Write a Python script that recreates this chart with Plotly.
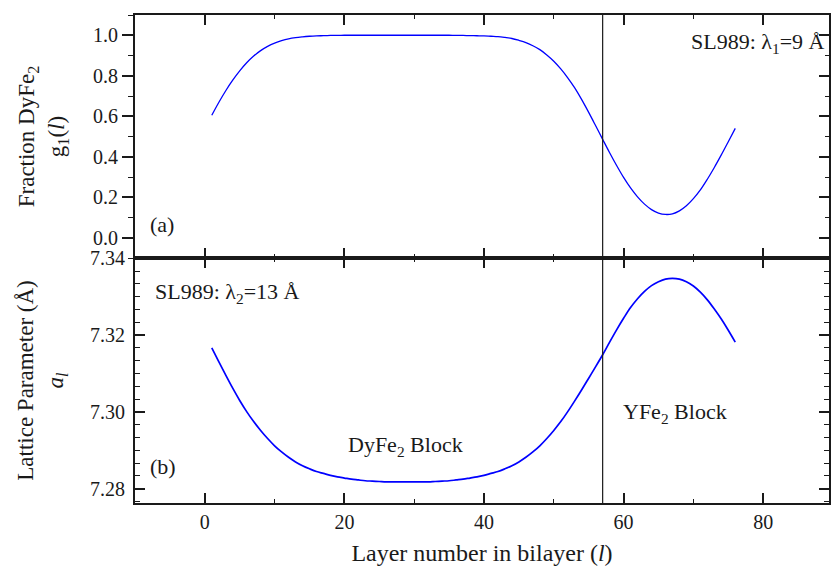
import plotly.graph_objects as go

# ---------------- data ----------------
layer_top = list(range(1, 77))
g1_values = [0.605, 0.668, 0.726, 0.778, 0.824, 0.864, 0.897, 0.924, 0.945, 0.961,   # 1-10
             0.973, 0.982, 0.988, 0.992, 0.995, 0.997, 0.998, 0.999, 0.9995, 1.0,    # 11-20
             1.0, 1.0, 1.0, 1.0, 1.0, 1.0, 1.0, 1.0, 1.0, 1.0,                       # 21-30
             1.0, 1.0, 1.0, 1.0, 1.0, 0.9995, 0.999, 0.998, 0.9975, 0.997,           # 31-40
             0.995, 0.993, 0.989, 0.984, 0.975, 0.964, 0.948, 0.929, 0.903, 0.872,   # 41-50
             0.834, 0.790, 0.740, 0.682, 0.619, 0.553, 0.486, 0.420, 0.357, 0.298,   # 51-60
             0.246, 0.202, 0.166, 0.139, 0.122, 0.115, 0.118, 0.133, 0.158, 0.193,   # 61-70
             0.236, 0.289, 0.347, 0.409, 0.474, 0.540]                               # 71-76

layer_bot = list(range(1, 77))
lattice_values = [7.3167, 7.3131, 7.3096, 7.3062, 7.3030, 7.3001, 7.2975, 7.2952, 7.2931, 7.2912,  # 1-10
                  7.2896, 7.2882, 7.2870, 7.2860, 7.2852, 7.2845, 7.2840, 7.2835, 7.2831, 7.2828,  # 11-20
                  7.2825, 7.2823, 7.2821, 7.2820, 7.2819, 7.2818, 7.2818, 7.2818, 7.2818, 7.2818,  # 21-30
                  7.2818, 7.2818, 7.2819, 7.2820, 7.2821, 7.2823, 7.2825, 7.2828, 7.2831, 7.2835,  # 31-40
                  7.2840, 7.2845, 7.2852, 7.2860, 7.2870, 7.2882, 7.2896, 7.2912, 7.2931, 7.2952,  # 41-50
                  7.2975, 7.3001, 7.3029, 7.3058, 7.3088, 7.3118, 7.3149, 7.3182, 7.3214, 7.3244,  # 51-60
                  7.3272, 7.3295, 7.3314, 7.3329, 7.3339, 7.3346, 7.3348, 7.3346, 7.3339, 7.3328,  # 61-70
                  7.3312, 7.3292, 7.3268, 7.3242, 7.3213, 7.3182]                                  # 71-76

boundary_layer = 57

x_range = [-10, 89.43]
g_range = [-0.1, 1.1]
a_range = [7.2763, 7.3401]

FONT = "Liberation Serif"
BLUE = "#0000ff"
INK = "#1a1a1a"

fig = go.Figure()
fig.add_trace(go.Scatter(x=layer_top, y=g1_values, mode="lines", xaxis="x2", yaxis="y2",
                         line=dict(color=BLUE, width=1.3, shape="spline", smoothing=1.0),
                         showlegend=False, hoverinfo="skip"))
fig.add_trace(go.Scatter(x=layer_bot, y=lattice_values, mode="lines", xaxis="x", yaxis="y",
                         line=dict(color=BLUE, width=1.7, shape="spline", smoothing=1.0),
                         showlegend=False, hoverinfo="skip"))

fig.add_shape(type="line", xref="x", yref="paper", x0=boundary_layer, x1=boundary_layer,
              y0=0, y1=1, line=dict(color=INK, width=1.2))

tickfont = dict(family=FONT, size=20, color=INK)
titlefont = dict(family=FONT, size=23, color=INK)
split = 245 / 488

common_x = dict(range=x_range, showline=True, linecolor=INK, linewidth=1.5,
                ticks="inside", ticklen=10, tickwidth=1.6, tickcolor=INK,
                dtick=20, tick0=0, mirror="ticks", showgrid=False, zeroline=False,
                minor=dict(ticks="inside", ticklen=4, tickwidth=1.4, dtick=10, tickcolor=INK))

fig.update_layout(
    width=831, height=568,
    margin=dict(l=135, r=0, t=15, b=65),
    plot_bgcolor="white", paper_bgcolor="white",
    font=dict(family=FONT, size=20, color=INK),
    xaxis=dict(**common_x, anchor="y", tickfont=tickfont,
               title=dict(text="Layer number in bilayer (<i>l</i>)",
                          font=dict(family=FONT, size=24, color=INK), standoff=12)),
    xaxis2=dict(**common_x, anchor="y2", matches="x", showticklabels=False),
    yaxis=dict(domain=[0, split], range=a_range, anchor="x",
               showline=True, linecolor=INK, linewidth=1.8,
               ticks="inside", ticklen=10, tickwidth=1.6, tickcolor=INK,
               tickvals=[7.28, 7.30, 7.32, 7.34], ticktext=["7.28", "7.30", "7.32", "7.34"],
               mirror="ticks", showgrid=False, zeroline=False, tickfont=tickfont,
               ticklabelstandoff=4,
               minor=dict(ticks="inside", ticklen=5, tickwidth=1.4, dtick=0.02 / 6,
                          tick0=7.28, tickcolor=INK),
               title=dict(text="Lattice Parameter (Å)<br><i>a</i><sub><i>l</i></sub>",
                          font=titlefont, standoff=20)),
    yaxis2=dict(domain=[split, 1], range=g_range, anchor="x2",
                showline=True, linecolor=INK, linewidth=1.8,
                ticks="outside", ticklen=11, tickwidth=1.6, tickcolor=INK,
                dtick=0.2, tick0=0, tickformat=".1f",
                showgrid=False, zeroline=False, tickfont=tickfont,
                minor=dict(ticks="outside", ticklen=5, tickwidth=1.4, dtick=0.1, tickcolor=INK),
                title=dict(text="Fraction DyFe<sub>2</sub><br>g<sub>1</sub>(<i>l</i>)",
                           font=titlefont, standoff=22)),
    yaxis3=dict(overlaying="y2", side="right", anchor="x2", range=g_range,
                showline=True, linecolor=INK, linewidth=1.8,
                ticks="inside", ticklen=10, tickwidth=1.6, tickcolor=INK,
                dtick=0.2, tick0=0, showticklabels=False, showgrid=False, zeroline=False,
                minor=dict(ticks="inside", ticklen=4, tickwidth=1.4, dtick=0.1, tickcolor=INK)),
)

fig.add_trace(go.Scatter(x=[None], y=[None], xaxis="x2", yaxis="y3", showlegend=False,
                         hoverinfo="skip"))

ann_font = dict(family=FONT, size=22, color=INK)
fig.add_annotation(text="SL989: λ<sub>1</sub>=9 Å", xref="paper", yref="y2", x=0.997, y=0.96,
                   xanchor="right", yanchor="middle", showarrow=False, font=ann_font)
fig.add_annotation(text="(a)", xref="x2", yref="y2", x=-8.1, y=0.064,
                   xanchor="left", yanchor="middle", showarrow=False, font=ann_font)
fig.add_annotation(text="SL989: λ<sub>2</sub>=13 Å", xref="x", yref="y", x=-7.4, y=7.3311,
                   xanchor="left", yanchor="middle", showarrow=False, font=ann_font)
fig.add_annotation(text="(b)", xref="x", yref="y", x=-8.1, y=7.2857,
                   xanchor="left", yanchor="middle", showarrow=False, font=ann_font)
fig.add_annotation(text="DyFe<sub>2</sub> Block", xref="x", yref="y", x=20.3, y=7.2912,
                   xanchor="left", yanchor="middle", showarrow=False, font=ann_font)
fig.add_annotation(text="YFe<sub>2</sub> Block", xref="x", yref="y", x=59.6, y=7.2998,
                   xanchor="left", yanchor="middle", showarrow=False, font=ann_font)

fig.write_html("out.html")
